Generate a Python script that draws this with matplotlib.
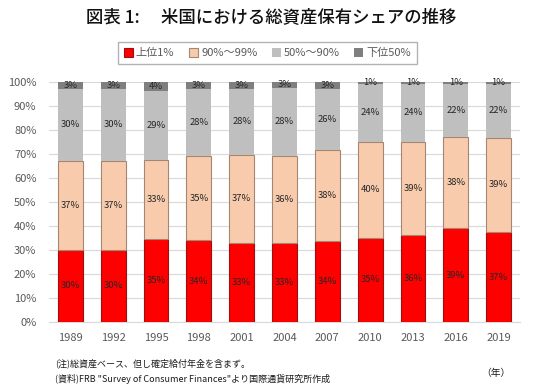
import matplotlib
matplotlib.use("Agg")
import matplotlib.pyplot as plt
import numpy as np

plt.rcParams['font.family'] = ['Noto Sans CJK JP', 'DejaVu Sans']

years = ["1989", "1992", "1995", "1998", "2001", "2004", "2007", "2010", "2013", "2016", "2019"]
top1 = [30.1, 30.1, 34.7, 34.0, 32.9, 33.0, 33.6, 35.0, 36.3, 39.0, 37.4]
p90_99 = [37.1, 37.0, 32.8, 35.0, 36.6, 36.2, 37.8, 40.1, 38.8, 38.1, 39.4]
p50_90 = [30.0, 30.0, 28.8, 28.2, 27.7, 28.2, 25.8, 24.1, 24.1, 22.1, 22.4]
bottom50 = [2.8, 2.9, 3.7, 2.8, 2.8, 2.6, 2.8, 0.8, 0.8, 0.8, 0.8]

series = [
    ("上位1%", top1, "#FF0000", "#9e1010"),
    ("90%～99%", p90_99, "#F8CBAD", "#a58670"),
    ("50%～90%", p50_90, "#BFBFBF", "none"),
    ("下位50%", bottom50, "#7F7F7F", "none"),
]

fig = plt.figure(figsize=(5.48, 3.86), dpi=100, facecolor='white')
ax = fig.add_axes([0.0894, 0.166, 0.8596, 0.622])

x = np.arange(len(years))
base = np.zeros(len(years))
for name, vals, color, edge in series:
    vals = np.array(vals)
    ax.bar(x, vals, 0.58, bottom=base, color=color, edgecolor=edge,
           linewidth=0.8, label=name, zorder=3)
    for xi, b, v in zip(x, base, vals):
        ax.text(xi, b + v / 2, f"{v:.0f}%", ha='center', va='center',
                fontsize=6.8, color='#262626', zorder=4)
    base = base + vals

ax.set_xlim(-0.5, len(years) - 0.5)
ax.set_ylim(0, 100)
ax.set_yticks(range(0, 101, 10))
ax.set_yticklabels([f"{v}%" for v in range(0, 101, 10)])
ax.set_xticks(x)
ax.set_xticklabels(years)
ax.tick_params(axis='both', length=0, labelsize=8, colors='#595959')
ax.tick_params(axis='x', pad=8)
ax.tick_params(axis='y', pad=9)
ax.grid(axis='y', color='#d9d9d9', linewidth=0.8, zorder=0)
for s in ['top', 'right', 'left']:
    ax.spines[s].set_visible(False)
ax.spines['bottom'].set_color('#d9d9d9')

fig.text(0.495, 0.957, "図表 1:　 米国における総資産保有シェアの推移", ha='center',
         va='center', fontsize=12.5, fontweight='medium', color='#111111')

leg = fig.legend(loc='center', bbox_to_anchor=(0.488, 0.862), ncol=4, fontsize=8,
                 frameon=True, fancybox=False, edgecolor='#a0a0a0',
                 handlelength=0.8, handleheight=0.8, handletextpad=0.3,
                 columnspacing=1.3, borderpad=0.55)
for t in leg.get_texts():
    t.set_color('#595959')

fig.text(0.1, 0.06, "(注)総資産ベース、但し確定給付年金を含まず。", fontsize=6.5, va='center',
         color='#1a1a1a')
fig.text(0.1, 0.018, "(資料)FRB \"Survey of Consumer Finances\"より国際通貨研究所作成",
         fontsize=6.5, va='center', color='#1a1a1a')
fig.text(0.878, 0.034, "（年）", fontsize=7, va='center', color='#1a1a1a')

fig.savefig("out.png", dpi=100, facecolor='white')
